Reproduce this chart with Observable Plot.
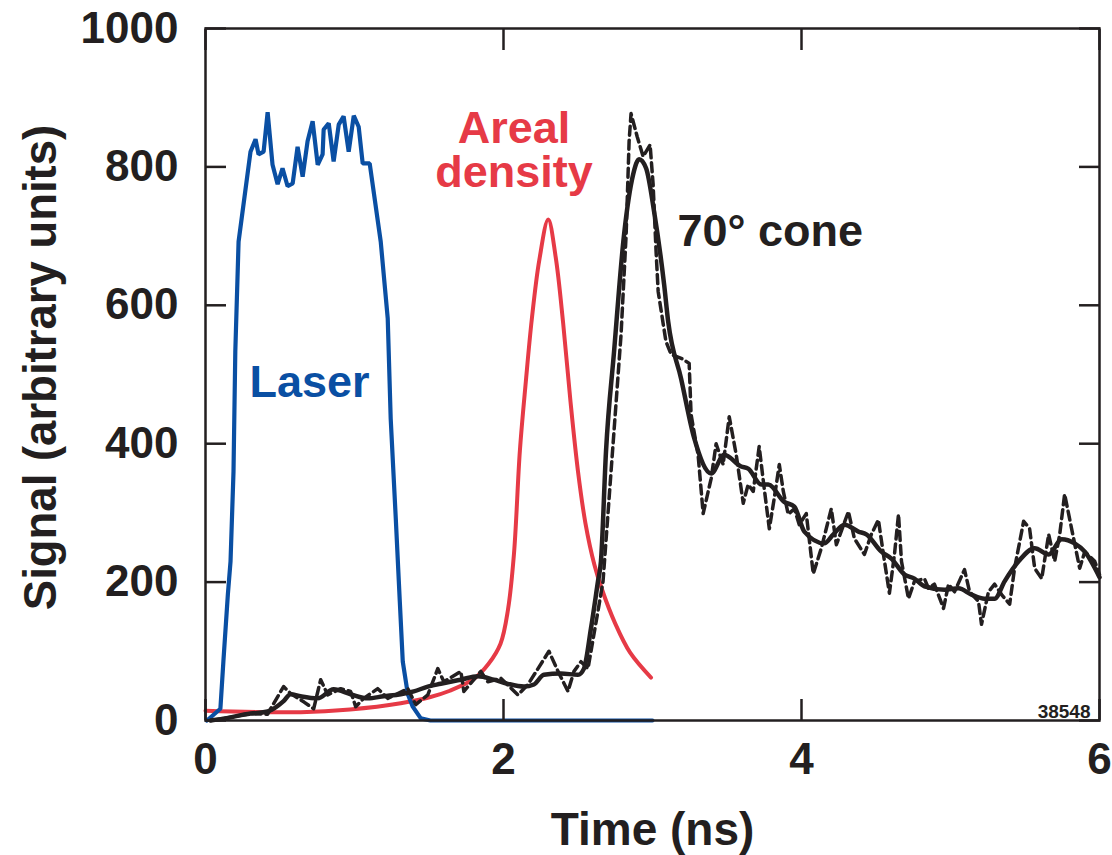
<!DOCTYPE html>
<html>
<head>
<meta charset="utf-8">
<script src="https://cdn.jsdelivr.net/npm/d3@7"></script>
<script src="https://cdn.jsdelivr.net/npm/@observablehq/plot@0.6"></script>
<style>
  html, body { margin: 0; padding: 0; background: #fff; }
  svg { display: block; }
</style>
</head>
<body>
<script>
// ---- Data ----
const xTicks = [0, 2, 4, 6];
const xTickLabels = ["0", "2", "4", "6"];
const yTicks = [0, 200, 400, 600, 800, 1000];
const yTickLabels = ["0", "200", "400", "600", "800", "1000"];

// Laser pulse
const laserT = [0.01, 0.10, 0.12, 0.15, 0.168, 0.188, 0.20, 0.222, 0.302, 0.336, 0.356, 0.390, 0.417, 0.450, 0.484, 0.517, 0.551, 0.585, 0.618, 0.652, 0.685, 0.719, 0.753, 0.786, 0.793, 0.827, 0.860, 0.894, 0.927, 0.961, 0.995, 1.028, 1.055, 1.102, 1.176, 1.223, 1.243, 1.277, 1.304, 1.324, 1.358, 1.391, 1.445, 1.51, 3.0];
const laserV = [0, 17, 85, 182, 230, 360, 533, 692, 822, 840, 818, 822, 879, 803, 775, 798, 772, 776, 829, 786, 837, 866, 803, 818, 854, 863, 808, 861, 873, 822, 874, 858, 805, 805, 692, 581, 436, 292, 172, 85, 38, 20, 3, 0, 0];

// Areal density
const arealT = [0.0, 0.64, 0.97, 1.31, 1.51, 1.64, 1.80, 1.90, 1.98, 2.03, 2.07, 2.11, 2.15, 2.19, 2.24, 2.30, 2.35, 2.40, 2.45, 2.50, 2.55, 2.61, 2.66, 2.75, 2.85, 2.99];
const arealV = [14, 12, 16, 25, 34, 43, 60, 82, 111, 160, 240, 390, 490, 580, 665, 724, 670, 575, 460, 360, 285, 225, 190, 140, 98, 62];

// 70° cone — smoothed (solid)
const coneT = [0.034, 0.101, 0.302, 0.417, 0.524, 0.571, 0.638, 0.753, 0.86, 0.974, 1.089, 1.196, 1.31, 1.398, 1.492, 1.579, 1.714, 1.828, 1.935, 2.029, 2.137, 2.204, 2.271, 2.385, 2.5, 2.54, 2.587, 2.634, 2.654, 2.688, 2.742, 2.809, 2.87, 2.91, 2.957, 3.011, 3.078, 3.105, 3.192, 3.28, 3.394, 3.481, 3.595, 3.642, 3.73, 3.777, 3.884, 3.952, 4.019, 4.153, 4.214, 4.288, 4.382, 4.435, 4.536, 4.603, 4.691, 4.758, 4.825, 4.96, 5.054, 5.141, 5.228, 5.296, 5.363, 5.457, 5.565, 5.659, 5.746, 5.833, 5.901, 6.0];
const coneV = [0, 2, 10, 13, 28, 38, 35, 32, 45, 38, 32, 35, 38, 42, 49, 53, 59, 64, 59, 53, 49, 52, 66, 68, 66, 75, 133, 201, 230, 389, 533, 702, 789, 811, 798, 735, 630, 577, 494, 408, 357, 384, 367, 364, 341, 341, 316, 309, 273, 256, 269, 283, 273, 269, 244, 234, 211, 205, 194, 189, 191, 182, 176, 176, 201, 230, 249, 240, 262, 256, 244, 207];

// 70° cone — raw (dashed)
const coneRawT = [0.034, 0.1, 0.3, 0.417, 0.437, 0.524, 0.571, 0.659, 0.726, 0.773, 0.82, 0.907, 0.974, 1.008, 1.062, 1.156, 1.223, 1.358, 1.411, 1.492, 1.559, 1.6, 1.714, 1.734, 1.848, 1.895, 1.983, 2.097, 2.164, 2.305, 2.366, 2.433, 2.473, 2.52, 2.567, 2.634, 2.668, 2.789, 2.823, 2.843, 2.856, 2.897, 2.937, 2.984, 3.004, 3.024, 3.038, 3.09, 3.125, 3.206, 3.246, 3.259, 3.306, 3.34, 3.394, 3.427, 3.474, 3.515, 3.562, 3.609, 3.642, 3.676, 3.716, 3.75, 3.784, 3.817, 3.851, 3.878, 3.911, 3.952, 3.985, 4.032, 4.079, 4.133, 4.2, 4.234, 4.315, 4.355, 4.422, 4.469, 4.516, 4.55, 4.59, 4.624, 4.651, 4.671, 4.718, 4.758, 4.825, 4.852, 4.892, 4.953, 4.987, 5.027, 5.094, 5.128, 5.188, 5.208, 5.255, 5.296, 5.343, 5.397, 5.43, 5.491, 5.531, 5.565, 5.612, 5.659, 5.699, 5.733, 5.766, 5.813, 5.867, 5.901, 5.968, 6.0];
const coneRawV = [0, 2, 10, 9, 17, 49, 39, 27, 17, 59, 37, 46, 42, 20, 32, 46, 32, 46, 23, 37, 75, 56, 71, 42, 71, 56, 61, 37, 52, 100, 71, 42, 71, 85, 75, 158, 201, 558, 702, 837, 877, 844, 815, 832, 775, 678, 620, 548, 529, 522, 516, 442, 384, 299, 350, 400, 370, 439, 384, 314, 341, 331, 396, 335, 277, 321, 370, 331, 298, 306, 283, 299, 212, 249, 306, 254, 302, 263, 240, 269, 290, 240, 184, 240, 298, 230, 176, 201, 205, 191, 197, 162, 197, 186, 218, 186, 172, 139, 186, 197, 182, 168, 220, 288, 277, 220, 205, 269, 230, 269, 327, 277, 220, 244, 230, 211];

// Annotation labels
const labelText = ["Laser", "Areal\ndensity", "70° cone"];
const labelX = [0.698, 2.07, 3.168];
const labelY = [467, 771, 686];
const labelColor = ["#0a4fa3", "#e63a46", "#231f20"];
const labelAnchor = ["middle", "middle", "start"];

const xTitle = "Time (ns)";
const yTitle = "Signal (arbitrary units)";
const figId = "38548";

// ---- Build tables ----
const zip = (T, V) => T.map((t, i) => ({t, v: V[i]}));
const laser = zip(laserT, laserV);
const areal = zip(arealT, arealV);
const cone = zip(coneT, coneV);
const coneRaw = zip(coneRawT, coneRawV);
const labels = labelText.map((s, i) => ({s, x: labelX[i], y: labelY[i], c: labelColor[i], a: labelAnchor[i]}));

const INK = "#231f20";
const FONT = "'Liberation Sans', Arial, Helvetica, sans-serif";

const labelMarks = ["middle", "start"].map(anchor =>
  Plot.text(labels.filter(d => d.a === anchor), {
    x: "x", y: "y", text: "s", fill: "c", textAnchor: anchor,
    lineAnchor: "bottom", lineHeight: 0.98, fontSize: 45, fontWeight: "bold"
  })
);

const plot = Plot.plot({
  width: 1112,
  height: 855,
  marginLeft: 205,
  marginRight: 13,
  marginTop: 28,
  marginBottom: 135,
  x: {domain: [0, 6], axis: null},
  y: {domain: [0, 1000], axis: null},
  style: {fontFamily: FONT, background: "#fff", color: INK},
  marks: [
    Plot.line(areal, {x: "t", y: "v", stroke: "#e63a46", strokeWidth: 4, curve: "catmull-rom"}),
    Plot.line(laser, {x: "t", y: "v", stroke: "#0a4fa3", strokeWidth: 4.2, strokeLinejoin: "miter"}),
    Plot.line(coneRaw, {x: "t", y: "v", stroke: INK, strokeWidth: 3.5, strokeDasharray: "9,5"}),
    Plot.line(cone, {x: "t", y: "v", stroke: INK, strokeWidth: 4.5, curve: "monotone-x"}),
    Plot.frame({stroke: INK, strokeWidth: 2.5}),
    Plot.axisY({anchor: "left", ticks: yTicks, tickFormat: (d, i) => yTickLabels[i], tickSize: -21, tickPadding: 48, strokeWidth: 2.5, fontSize: 44, fontWeight: "bold", color: INK, label: null}),
    Plot.axisY({anchor: "right", ticks: yTicks, tickFormat: () => "", tickSize: -21, strokeWidth: 2.5, color: INK, label: null}),
    Plot.axisX({anchor: "bottom", ticks: xTicks, tickFormat: (d, i) => xTickLabels[i], tickSize: -21, tickPadding: 43, strokeWidth: 2.5, fontSize: 44, fontWeight: "bold", color: INK, label: null}),
    Plot.axisX({anchor: "top", ticks: xTicks, tickFormat: () => "", tickSize: -21, strokeWidth: 2.5, color: INK, label: null}),
    ...labelMarks,
    Plot.text([xTitle], {frameAnchor: "bottom", dy: 124, textAnchor: "middle", lineAnchor: "bottom", fontSize: 46, fontWeight: "bold", fill: INK}),
    Plot.text([yTitle], {frameAnchor: "left", dx: -150, dy: -7, rotate: -90, textAnchor: "middle", lineAnchor: "bottom", fontSize: 45.5, fontWeight: "bold", fill: INK}),
    Plot.text([figId], {frameAnchor: "bottom-right", dx: -9, dy: -3, textAnchor: "end", lineAnchor: "bottom", fontSize: 19, fontWeight: "bold", fill: INK})
  ]
});
document.body.appendChild(plot);
</script>
</body>
</html>
